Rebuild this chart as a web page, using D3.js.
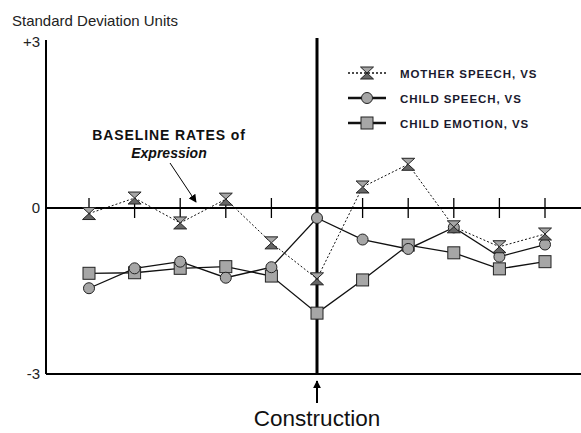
<!DOCTYPE html>
<html>
<head>
<meta charset="utf-8">
<script src="https://cdn.jsdelivr.net/npm/d3@7"></script>
<style>
  body { margin: 0; background: #fff; }
  svg { display: block; }
</style>
</head>
<body>
<svg></svg>
<script>
// sessions 1..11, construction at session 6
const sessions = [1, 2, 3, 4, 5, 6, 7, 8, 9, 10, 11];
const constructionSession = 6;
const yTicks = [3, 0, -3];
const yTickLabels = ['+3', '0', '-3'];

const motherSpeech = [-0.1, 0.18, -0.27, 0.16, -0.63, -1.28, 0.38, 0.79, -0.34, -0.7, -0.47];
const childSpeech = [-1.45, -1.09, -0.97, -1.26, -1.07, -0.18, -0.57, -0.74, -0.35, -0.88, -0.66];
const childEmotion = [-1.18, -1.17, -1.09, -1.06, -1.23, -1.9, -1.3, -0.67, -0.81, -1.1, -0.97];

const seriesNames = ['MOTHER SPEECH, VS', 'CHILD SPEECH, VS', 'CHILD EMOTION, VS'];

const WIDTH = 581;
const HEIGHT = 433;
const AXIS_LEFT = 46;
const AXIS_RIGHT = 581;

const svg = d3.select('svg').
attr('width', WIDTH).
attr('height', HEIGHT).
attr('font-family', 'Arial, "Liberation Sans", sans-serif');

const x = d3.scaleLinear().domain([1, 11]).range([89, 545]);
const y = d3.scaleLinear().domain([-3, 3]).range([374, 42]);

svg.append('defs').append('marker').
attr('id', 'arrowhead').
attr('viewBox', '0 0 10 10').
attr('refX', 9).
attr('refY', 5).
attr('markerWidth', 8).
attr('markerHeight', 8).
attr('markerUnits', 'userSpaceOnUse').
attr('orient', 'auto').
append('path').
attr('d', 'M0,0 L10,5 L0,10 Z').
attr('fill', '#000');

// title
svg.append('text').
attr('x', 12).
attr('y', 26).
attr('font-size', '15px').
attr('fill', '#222').
text('Standard Deviation Units');

// y axis labels
svg.append('g').selectAll('text').
data(yTicks).
enter().
append('text').
attr('x', 40).
attr('y', d => y(d) + 5).
attr('text-anchor', 'end').
attr('font-size', '15px').
attr('fill', '#222').
text((d, i) => yTickLabels[i]);

// axes frame
svg.append('line').
attr('x1', AXIS_LEFT).attr('x2', AXIS_LEFT).
attr('y1', 40).attr('y2', y(-3)).
attr('stroke', '#000').attr('stroke-width', 2);

svg.append('line').
attr('x1', AXIS_LEFT).attr('x2', AXIS_RIGHT).
attr('y1', y(-3)).attr('y2', y(-3)).
attr('stroke', '#000').attr('stroke-width', 2);

svg.append('line').
attr('x1', AXIS_LEFT).attr('x2', AXIS_RIGHT).
attr('y1', y(0)).attr('y2', y(0)).
attr('stroke', '#000').attr('stroke-width', 2);

// session ticks on the zero line
svg.append('g').selectAll('line').
data(sessions.filter(d => d !== constructionSession)).
enter().
append('line').
attr('x1', d => x(d)).attr('x2', d => x(d)).
attr('y1', y(0) - 10).attr('y2', y(0) + 10).
attr('stroke', '#000').attr('stroke-width', 1.3);

// construction line
svg.append('line').
attr('x1', x(constructionSession)).attr('x2', x(constructionSession)).
attr('y1', 38).attr('y2', y(-3)).
attr('stroke', '#000').attr('stroke-width', 3);

svg.append('line').
attr('x1', x(constructionSession)).attr('x2', x(constructionSession)).
attr('y1', 403).attr('y2', 381).
attr('stroke', '#000').attr('stroke-width', 2).
attr('marker-end', 'url(#arrowhead)');

svg.append('text').
attr('x', x(constructionSession)).
attr('y', 426).
attr('text-anchor', 'middle').
attr('font-size', '22.5px').
attr('fill', '#111').
text('Construction');

// annotation
const note = svg.append('text').
attr('text-anchor', 'middle').
attr('font-size', '14px').
attr('fill', '#111');
note.append('tspan').
attr('x', 169).attr('y', 140).
attr('font-weight', 'bold').
attr('letter-spacing', '0.9px').
text('BASELINE RATES of');
note.append('tspan').
attr('x', 169).attr('y', 158).
attr('font-weight', 'bold').
attr('font-style', 'italic').
text('Expression');

svg.append('line').
attr('x1', 170).attr('y1', 163).
attr('x2', 196).attr('y2', 202).
attr('stroke', '#000').attr('stroke-width', 1).
attr('marker-end', 'url(#arrowhead)');

// series
const lineGen = d3.line().
x((d, i) => x(sessions[i])).
y(d => y(d));

const MARK_FILL = '#a6a6a6';
const MARK_STROKE = '#222';

function hourglass(g, cx, cy) {
  g.append('path').
  attr('d', `M${cx - 6.5},${cy - 6} L${cx + 6.5},${cy - 6} L${cx},${cy} Z`).
  attr('fill', MARK_FILL).attr('stroke', MARK_STROKE).attr('stroke-width', 1);
  g.append('path').
  attr('d', `M${cx - 6.5},${cy + 6} L${cx + 6.5},${cy + 6} L${cx},${cy} Z`).
  attr('fill', '#666').attr('stroke', MARK_STROKE).attr('stroke-width', 1);
}

function circle(g, cx, cy) {
  g.append('circle').
  attr('cx', cx).attr('cy', cy).attr('r', 5.5).
  attr('fill', MARK_FILL).attr('stroke', MARK_STROKE).attr('stroke-width', 1);
}

function square(g, cx, cy) {
  g.append('rect').
  attr('x', cx - 6).attr('y', cy - 6).
  attr('width', 12).attr('height', 12).
  attr('fill', MARK_FILL).attr('stroke', MARK_STROKE).attr('stroke-width', 1);
}

const series = [
{ values: childEmotion, dash: null, width: 1.3, marker: square },
{ values: childSpeech, dash: null, width: 1.3, marker: circle },
{ values: motherSpeech, dash: '2,2', width: 1, marker: hourglass }];


series.forEach(s => {
  svg.append('path').
  datum(s.values).
  attr('d', lineGen).
  attr('fill', 'none').
  attr('stroke', '#111').
  attr('stroke-width', s.width).
  attr('stroke-dasharray', s.dash);
});

series.forEach(s => {
  const g = svg.append('g');
  s.values.forEach((v, i) => s.marker(g, x(sessions[i]), y(v)));
});

// legend
const legendRows = [
{ name: seriesNames[0], dash: '2,2', width: 1.5, marker: hourglass },
{ name: seriesNames[1], dash: null, width: 2.5, marker: circle },
{ name: seriesNames[2], dash: null, width: 2.5, marker: square }];

const legendY = [73, 98, 123];

legendRows.forEach((r, i) => {
  const g = svg.append('g');
  const ly = legendY[i];
  g.append('line').
  attr('x1', 348).attr('x2', 386).
  attr('y1', ly).attr('y2', ly).
  attr('stroke', '#111').
  attr('stroke-width', r.width).
  attr('stroke-dasharray', r.dash);
  r.marker(g, 367, ly);
  g.append('text').
  attr('x', 400).
  attr('y', ly + 4.5).
  attr('font-size', '11.5px').
  attr('font-weight', 'bold').
  attr('letter-spacing', '0.9px').
  attr('fill', '#1a1a2e').
  text(r.name);
});
</script>
</body>
</html>
